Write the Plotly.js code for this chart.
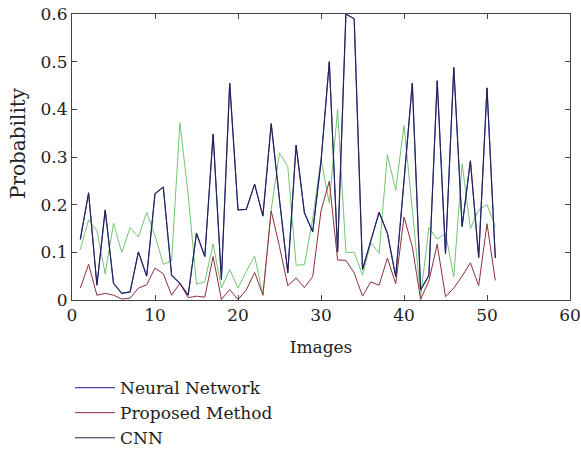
<!DOCTYPE html>
<html>
<head>
<meta charset="utf-8">
<script src="https://cdn.plot.ly/plotly-3.0.1.min.js"></script>
<style>html,body{margin:0;padding:0;background:#fff;}#chart{width:581px;height:454px;}</style>
</head>
<body>
<div id="chart"></div>
<script>
var images = [1,2,3,4,5,6,7,8,9,10,11,12,13,14,15,16,17,18,19,20,21,22,23,24,25,26,27,28,29,30,31,32,33,34,35,36,37,38,39,40,41,42,43,44,45,46,47,48,49,50,51];

var neuralNetwork = [0.127,0.225,0.031,0.189,0.035,0.014,0.017,0.101,0.050,0.223,0.237,0.052,0.035,0.010,0.140,0.091,0.348,0.043,0.455,0.189,0.190,0.243,0.176,0.370,0.210,0.057,0.325,0.183,0.143,0.290,0.500,0.101,0.600,0.590,0.064,0.126,0.184,0.140,0.049,0.250,0.455,0.021,0.052,0.460,0.097,0.488,0.154,0.292,0.089,0.445,0.088];

var proposedMethod = [0.025,0.075,0.010,0.014,0.010,0.002,0.004,0.025,0.032,0.067,0.055,0.010,0.035,0.005,0.008,0.006,0.091,0.001,0.022,0.001,0.021,0.058,0.010,0.187,0.112,0.030,0.046,0.026,0.049,0.187,0.249,0.084,0.083,0.057,0.008,0.038,0.031,0.088,0.034,0.174,0.112,0.001,0.040,0.117,0.007,0.025,0.050,0.078,0.030,0.160,0.041];

var cnn = [0.127,0.225,0.031,0.189,0.035,0.014,0.017,0.101,0.050,0.223,0.237,0.052,0.035,0.010,0.140,0.091,0.348,0.043,0.455,0.189,0.190,0.243,0.176,0.370,0.210,0.057,0.325,0.183,0.143,0.290,0.500,0.101,0.600,0.590,0.064,0.126,0.184,0.140,0.049,0.250,0.455,0.021,0.052,0.460,0.097,0.488,0.154,0.292,0.089,0.445,0.088];

var unlabeledGreen = [0.106,0.168,0.146,0.055,0.161,0.100,0.152,0.132,0.184,0.135,0.075,0.082,0.372,0.220,0.033,0.038,0.118,0.025,0.064,0.025,0.060,0.092,0.010,0.190,0.308,0.280,0.073,0.074,0.170,0.295,0.203,0.400,0.100,0.100,0.052,0.120,0.098,0.305,0.230,0.366,0.190,0.007,0.152,0.128,0.140,0.049,0.286,0.150,0.189,0.200,0.154];

var xTicks = [0,10,20,30,40,50,60];
var yTicks = [0,0.1,0.2,0.3,0.4,0.5,0.6];
var yTickText = ['0','0.1','0.2','0.3','0.4','0.5','0.6'];
var xTitle = 'Images';
var yTitle = 'Probability';

var FONT = 'DejaVu Serif, Liberation Serif, serif';

var traces = [
  {x: images, y: unlabeledGreen, type: 'scatter', mode: 'lines', name: '', showlegend: false,
   line: {color: '#72c672', width: 1}},
  {x: images, y: neuralNetwork, type: 'scatter', mode: 'lines', name: 'Neural Network', legendgroup: 'a',
   line: {color: '#4848b8', width: 1.2}},
  {x: images, y: proposedMethod, type: 'scatter', mode: 'lines', name: 'Proposed Method', legendgroup: 'b',
   line: {color: '#8e2f3c', width: 1}},
  {x: images, y: cnn, type: 'scatter', mode: 'lines', name: 'CNN', legendgroup: 'c',
   line: {color: '#22224e', width: 1}}
];

var layout = {
  width: 581, height: 454,
  margin: {l: 72, r: 11, t: 14, b: 154, pad: 0, autoexpand: false},
  paper_bgcolor: '#fff', plot_bgcolor: '#fff',
  font: {family: FONT, size: 17, color: '#222'},
  showlegend: true,
  legend: {
    xref: 'container', yref: 'container',
    x: 0.1205, y: 0.185, xanchor: 'left', yanchor: 'top',
    orientation: 'v', traceorder: 'grouped', tracegroupgap: 0,
    itemwidth: 40, bgcolor: 'rgba(0,0,0,0)',
    font: {family: FONT, size: 17, color: '#222'}
  },
  xaxis: {
    range: [0, 60], tickvals: xTicks, ticks: 'inside', ticklen: 5, tickcolor: '#444',
    showline: true, linecolor: '#444', linewidth: 1, mirror: 'ticks',
    showgrid: false, zeroline: false,
    tickfont: {family: FONT, size: 17, color: '#222'},
    title: {text: xTitle, font: {family: FONT, size: 17, color: '#222'}, standoff: 16}
  },
  yaxis: {
    range: [0, 0.6], tickvals: yTicks, ticktext: yTickText, ticks: 'inside', ticklen: 5, tickcolor: '#444',
    showline: true, linecolor: '#444', linewidth: 1, mirror: 'ticks',
    showgrid: false, zeroline: false,
    tickfont: {family: FONT, size: 17, color: '#222'}
  },
  annotations: [{
    text: yTitle, xref: 'paper', yref: 'paper', x: -0.1084, y: 0.549,
    xanchor: 'center', yanchor: 'middle', textangle: -90, showarrow: false,
    font: {family: FONT, size: 20, color: '#222'}
  }]
};

Plotly.newPlot('chart', traces, layout, {displayModeBar: false, staticPlot: true});
</script>
</body>
</html>
